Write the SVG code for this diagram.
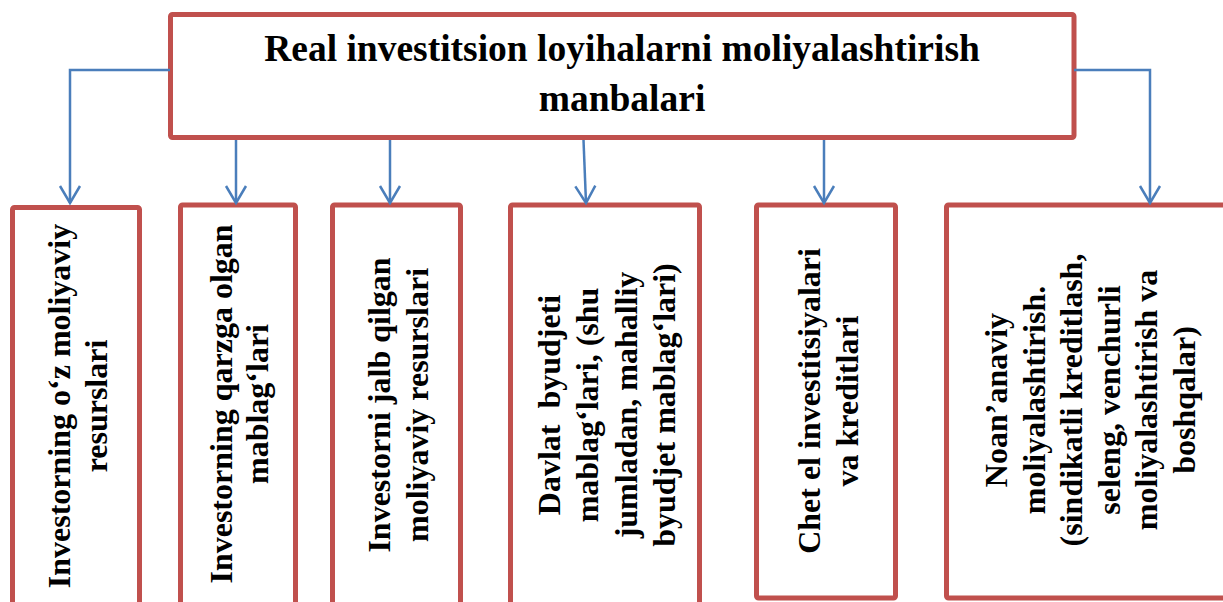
<svg xmlns="http://www.w3.org/2000/svg" width="1223" height="602" viewBox="0 0 1223 602">
  <style>
    .box { fill: #FFFFFF; stroke: #C0504D; stroke-width: 5; }
    .title { font-family: "Liberation Serif", "Times New Roman", serif; font-weight: bold; font-size: 37.5px; fill: #000; text-anchor: middle; }
    .lbl { font-family: "Liberation Serif", "Times New Roman", serif; font-weight: bold; font-size: 32px; fill: #000; text-anchor: middle; }
    .conn { fill: none; stroke: #4A7EBB; stroke-width: 2.5; }
  </style>
  <defs>
    <marker id="arr" markerUnits="userSpaceOnUse" markerWidth="24" markerHeight="26" viewBox="-20 -13 24 26" refX="0" refY="0" orient="auto" overflow="visible">
      <path d="M-17,-10 L0,0 L-17,10" fill="none" stroke="#4A7EBB" stroke-width="2.5"/>
    </marker>
  </defs>
  <rect width="1223" height="602" fill="#FFFFFF"/>

  <g id="root">
    <rect class="box" x="170.5" y="14.5" width="903.5" height="123" rx="2"/>
    <text class="title" x="622" y="61">Real investitsion loyihalarni moliyalashtirish</text>
    <text class="title" x="622" y="111">manbalari</text>
  </g>

  <g id="n1">
    <rect class="box" x="12.5" y="207.5" width="127" height="420" rx="2"/>
    <text class="lbl" transform="translate(0,406) rotate(-90)"><tspan x="0" y="70">Investorning o‘z moliyaviy</tspan><tspan x="0" y="107">resurslari</tspan></text>
  </g>

  <g id="n2">
    <rect class="box" x="180.5" y="205" width="115" height="420" rx="2"/>
    <text class="lbl" transform="translate(0,404) rotate(-90)"><tspan x="0" y="232">Investorning qarzga olgan</tspan><tspan x="0" y="268">mablag‘lari</tspan></text>
  </g>

  <g id="n3">
    <rect class="box" x="332.5" y="205" width="128" height="420" rx="2"/>
    <text class="lbl" transform="translate(0,405) rotate(-90)"><tspan x="0" y="390">Investorni jalb qilgan</tspan><tspan x="0" y="428">moliyaviy resurslari</tspan></text>
  </g>

  <g id="n4">
    <rect class="box" x="510.5" y="205" width="189" height="420" rx="2"/>
    <text class="lbl" xml:space="preserve" transform="translate(0,405) rotate(-90)"><tspan x="0" y="560">Davlat  byudjeti</tspan><tspan x="0" y="598">mablag‘lari, (shu</tspan><tspan x="0" y="637">jumladan, mahalliy</tspan><tspan x="0" y="675">byudjet mablag‘lari)</tspan></text>
  </g>

  <g id="n5">
    <rect class="box" x="756.5" y="205" width="139" height="393" rx="2"/>
    <text class="lbl" transform="translate(0,401) rotate(-90)"><tspan x="0" y="820">Chet el investitsiyalari</tspan><tspan x="0" y="858">va kreditlari</tspan></text>
  </g>

  <g id="n6">
    <rect class="box" x="946.5" y="205" width="300" height="393" rx="2"/>
    <text class="lbl" transform="translate(0,400) rotate(-90)"><tspan x="0" y="1007">Noan’anaviy</tspan><tspan x="0" y="1045">moliyalashtirish.</tspan><tspan x="0" y="1082">(sindikatli kreditlash,</tspan><tspan x="0" y="1120">seleng, venchurli</tspan><tspan x="0" y="1157">moliyalashtirish va</tspan><tspan x="0" y="1195">boshqalar)</tspan></text>
  </g>

  <g id="connectors">
    <polyline class="conn" points="170,70 70,70 70,203" marker-end="url(#arr)"/>
    <line class="conn" x1="236" y1="140" x2="236" y2="203" marker-end="url(#arr)"/>
    <line class="conn" x1="390" y1="140" x2="390" y2="203" marker-end="url(#arr)"/>
    <line class="conn" x1="583.5" y1="140" x2="586" y2="203" marker-end="url(#arr)"/>
    <line class="conn" x1="824" y1="140" x2="824" y2="203" marker-end="url(#arr)"/>
    <polyline class="conn" points="1074,70 1150,70 1150,203" marker-end="url(#arr)"/>
  </g>
</svg>
